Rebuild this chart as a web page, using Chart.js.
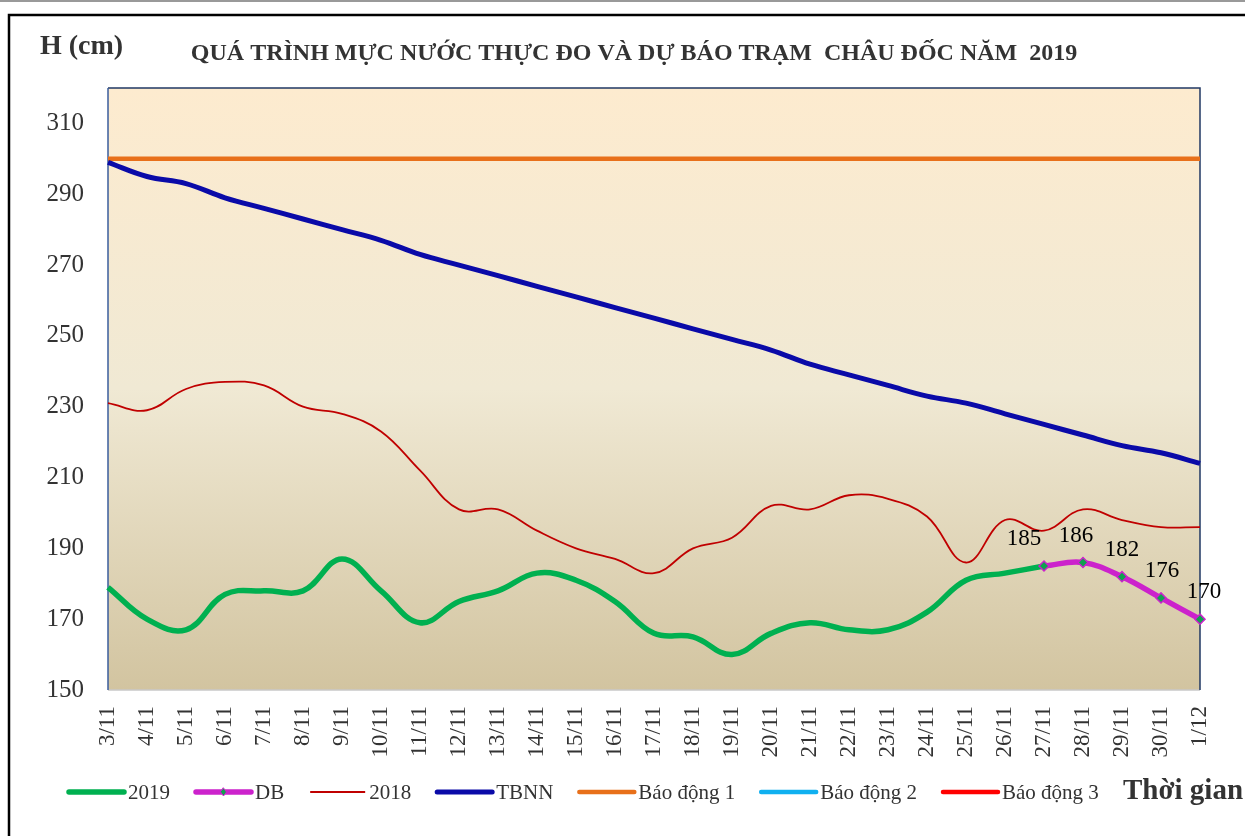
<!DOCTYPE html>
<html>
<head>
<meta charset="utf-8">
<script src="https://cdn.jsdelivr.net/npm/chart.js@4.4.1/dist/chart.umd.min.js"></script>
<style>
  html, body { margin: 0; padding: 0; background: #fff; }
  #wrap { width: 1245px; height: 836px; position: relative; }
</style>
</head>
<body>
<div id="wrap"><canvas id="myChart" width="1245" height="836"></canvas></div>
<script>
// data
var days = ['3/11', '4/11', '5/11', '6/11', '7/11', '8/11', '9/11', '10/11', '11/11', '12/11',
    '13/11', '14/11', '15/11', '16/11', '17/11', '18/11', '19/11', '20/11', '21/11', '22/11',
    '23/11', '24/11', '25/11', '26/11', '27/11', '28/11', '29/11', '30/11', '1/12'];
var h2019 = [179, 170, 167, 177, 178, 178, 187, 178, 169, 175,
    178, 183, 181, 175, 166, 165, 160, 166, 169, 167,
    167, 172, 181, 183, 185, null, null, null, null];
var hDB = [null, null, null, null, null, null, null, null, null, null,
    null, null, null, null, null, null, null, null, null, null,
    null, null, null, null, 185, 186, 182, 176, 170];
var h2018 = [231, 229, 235, 237, 236, 230, 228, 223, 212, 201,
    201, 195, 190, 187, 183, 190, 193, 202, 201, 205,
    204, 199, 186, 198, 195, 201, 198, 196, 196];
var tbnn = [299, 295, 293, 289, 286, 283, 280, 277, 273, 270,
    267, 264, 261, 258, 255, 252, 249, 246, 242, 239,
    236, 233, 231, 228, 225, 222, 219, 217, 214];
var baoDong1 = 300, baoDong2 = 350, baoDong3 = 400;
var yTicks = [150, 170, 190, 210, 230, 250, 270, 290, 310];

var FONT = "'Liberation Serif', 'Times New Roman', serif";
var TEXT = '#333333';

function level(v) {
    return days.map(function () { return v; });
}

// background of the plot area and its frame
var plotBackground = {
    id: 'plotBackground',
    beforeDatasetsDraw: function (chart) {
        var ctx = chart.ctx, a = chart.chartArea;
        var g = ctx.createLinearGradient(0, a.top, 0, a.bottom);
        g.addColorStop(0, '#fdebcf');
        g.addColorStop(0.5, '#f0e9d4');
        g.addColorStop(1, '#d2c4a0');
        ctx.save();
        ctx.fillStyle = g;
        ctx.fillRect(a.left, a.top, a.right - a.left, a.bottom - a.top);
        ctx.lineWidth = 1.5;
        ctx.strokeStyle = '#c8c8c8';
        ctx.beginPath();
        ctx.moveTo(a.left, a.bottom); ctx.lineTo(a.right, a.bottom);
        ctx.stroke();
        ctx.strokeStyle = '#203864';
        ctx.beginPath();
        ctx.moveTo(a.left, a.top); ctx.lineTo(a.right, a.top); ctx.lineTo(a.right, a.bottom);
        ctx.stroke();
        ctx.strokeStyle = '#3a5c9c';
        ctx.beginPath();
        ctx.moveTo(a.left, a.top); ctx.lineTo(a.left, a.bottom);
        ctx.stroke();
        ctx.restore();
    }
};

// outer frame, titles, legend, labels on the forecast
var decorations = {
    id: 'decorations',
    beforeDraw: function (chart) {
        var ctx = chart.ctx;
        ctx.save();
        ctx.strokeStyle = '#999';
        ctx.lineWidth = 2;
        ctx.beginPath(); ctx.moveTo(0, 1); ctx.lineTo(1245, 1); ctx.stroke();
        ctx.strokeStyle = '#000';
        ctx.lineWidth = 2.5;
        ctx.beginPath();
        ctx.moveTo(9, 836); ctx.lineTo(9, 15); ctx.lineTo(1245, 15);
        ctx.stroke();
        ctx.restore();
    },
    afterDatasetsDraw: function (chart) {
        var ctx = chart.ctx;
        // values on the forecast points
        var meta = chart.getDatasetMeta(1);
        var nudge = [-20, -7, 0, 1, 4];
        ctx.save();
        ctx.font = '23px ' + FONT;
        ctx.fillStyle = '#000';
        ctx.textAlign = 'center';
        ctx.textBaseline = 'middle';
        var k = 0;
        meta.data.forEach(function (pt, i) {
            var v = hDB[i];
            if (v === null) return;
            ctx.fillText(String(v), pt.x + nudge[k], pt.y - 27);
            k++;
        });
        ctx.restore();
    },
    afterDraw: function (chart) {
        var ctx = chart.ctx;
        ctx.save();
        ctx.fillStyle = TEXT;
        ctx.textBaseline = 'middle';
        ctx.textAlign = 'left';
        ctx.font = 'bold 28px ' + FONT;
        ctx.fillText('H (cm)', 40, 47);
        ctx.font = 'bold 24px ' + FONT;
        ctx.textAlign = 'center';
        ctx.fillText('QUÁ TRÌNH MỰC NƯỚC THỰC ĐO VÀ DỰ BÁO TRẠM  CHÂU ĐỐC NĂM  2019', 634, 54);

        // legend row
        var x = 69, y = 792, sw = 55;
        ctx.textAlign = 'left';
        chart.data.datasets.forEach(function (ds) {
            ctx.strokeStyle = ds.borderColor;
            ctx.lineWidth = Math.max(ds.borderWidth, 1.5);
            ctx.lineCap = ds.borderWidth > 2 ? 'round' : 'butt';
            ctx.beginPath();
            ctx.moveTo(x, y); ctx.lineTo(x + sw, y);
            ctx.stroke();
            if (ds.pointRadius > 0) {
                ctx.fillStyle = ds.pointBackgroundColor;
                ctx.strokeStyle = ds.pointBorderColor;
                ctx.lineWidth = 1;
                ctx.beginPath();
                ctx.moveTo(x + sw / 2, y - 4); ctx.lineTo(x + sw / 2 + 3, y);
                ctx.lineTo(x + sw / 2, y + 4); ctx.lineTo(x + sw / 2 - 3, y);
                ctx.closePath(); ctx.fill(); ctx.stroke();
            }
            ctx.fillStyle = TEXT;
            ctx.font = '21px ' + FONT;
            ctx.fillText(ds.label, x + sw + 4, y + 1);
            x += sw + 4 + ctx.measureText(ds.label).width + 26;
        });
        ctx.font = 'bold 29px ' + FONT;
        ctx.fillStyle = TEXT;
        ctx.fillText('Thời gian', 1123, y);
        ctx.restore();
    }
};

var ctx = document.getElementById('myChart').getContext('2d');
var myChart = new Chart(ctx, {
    type: 'line',
    data: {
        labels: days,
        datasets: [{
            label: '2019',
            data: h2019,
            borderColor: '#00b050',
            borderWidth: 5.5,
            pointRadius: 0,
            tension: 0.4,
            order: 2
        }, {
            label: 'DB',
            data: hDB,
            borderColor: '#cc22cc',
            borderWidth: 5.5,
            pointRadius: 5,
            pointStyle: 'rectRot',
            pointBackgroundColor: '#10a050',
            pointBorderColor: '#cc22cc',
            pointBorderWidth: 1.5,
            tension: 0.4,
            order: 1
        }, {
            label: '2018',
            data: h2018,
            borderColor: '#c00000',
            borderWidth: 1.8,
            pointRadius: 0,
            tension: 0.4,
            order: 3
        }, {
            label: 'TBNN',
            data: tbnn,
            borderColor: '#0a0aa8',
            borderWidth: 5,
            pointRadius: 0,
            tension: 0.4,
            order: 4
        }, {
            label: 'Báo động 1',
            data: level(baoDong1),
            borderColor: '#e8701a',
            borderWidth: 4.5,
            pointRadius: 0,
            order: 5
        }, {
            label: 'Báo động 2',
            data: level(baoDong2),
            borderColor: '#10b0f0',
            borderWidth: 4.5,
            pointRadius: 0,
            order: 6
        }, {
            label: 'Báo động 3',
            data: level(baoDong3),
            borderColor: '#ff0000',
            borderWidth: 4.5,
            pointRadius: 0,
            order: 7
        }]
    },
    options: {
        responsive: false,
        animation: false,
        devicePixelRatio: 1,
        layout: { padding: { top: 88, right: 45, left: 0, bottom: 0 } },
        plugins: {
            legend: { display: false },
            title: { display: false },
            tooltip: { enabled: false }
        },
        scales: {
            x: {
                grid: { display: false },
                border: { display: false },
                ticks: {
                    color: TEXT,
                    font: { family: FONT, size: 23 },
                    minRotation: 90,
                    maxRotation: 90,
                    autoSkip: false,
                    padding: 8
                },
                afterFit: function (scale) { scale.height = 146; }
            },
            y: {
                min: 150,
                max: 320,
                grid: { display: false },
                border: { display: false },
                ticks: {
                    color: TEXT,
                    font: { family: FONT, size: 25 },
                    padding: 16
                },
                afterBuildTicks: function (scale) {
                    scale.ticks = yTicks.map(function (v) { return { value: v }; });
                },
                afterFit: function (scale) { scale.width = 108; }
            }
        }
    },
    plugins: [plotBackground, decorations]
});
</script>
</body>
</html>
